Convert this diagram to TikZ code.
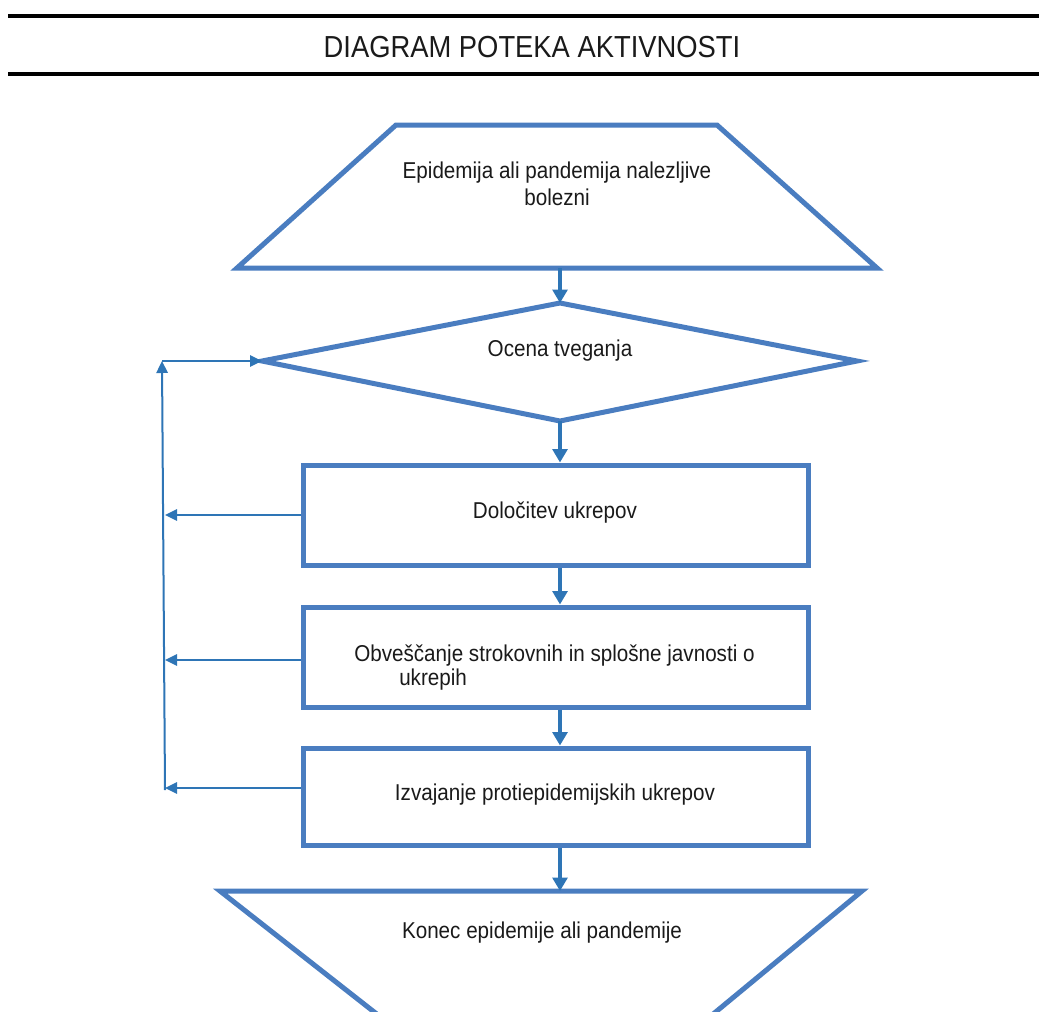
\documentclass[tikz,border=0pt]{standalone}
\usepackage{fontspec}
\setmainfont[FakeStretch=0.9]{Liberation Sans}
\usetikzlibrary{arrows.meta,calc}
\definecolor{shapeblue}{HTML}{4A7DC0}
\definecolor{linkblue}{HTML}{2E75B6}
\definecolor{txt}{HTML}{1A1A1A}
\tikzset{
  headrule/.style={draw=black, line width=3.6pt},
  shapeline/.style={draw=shapeblue, line width=3.75pt, line join=miter},
  boxnode/.style={shapeline, rectangle, minimum width=378.75pt, inner sep=0pt},
  flowarrow/.style={draw=linkblue, line width=2.8pt, -{Triangle[length=10pt,width=11pt]}},
  backarrow/.style={draw=linkblue, line width=1.5pt, -{Triangle[length=9pt,width=8.5pt]}},
  lbl/.style={font=\fontsize{17.2}{20}\selectfont, align=center, text=txt, inner sep=0pt},
  titlelbl/.style={font=\fontsize{22.8}{26}\selectfont, text=txt, inner sep=0pt}
}
\begin{document}
\begin{tikzpicture}[x=0.75pt,y=-0.75pt]
\useasboundingbox (0,0) rectangle (1039,1011);
% header
\draw[headrule] (8,16) -- (1039,16);
\draw[headrule] (8,74) -- (1039,74);
\node[titlelbl] (title) at (532,47) {DIAGRAM POTEKA AKTIVNOSTI};
% start trapezoid
\draw[shapeline] (396,125) -- (717,125) -- (877,268) -- (237,268) -- cycle;
\coordinate (startbot) at (560,268);
\node[lbl, font=\fontsize{17.2}{20.5}\selectfont] (start) at (557,184) {Epidemija ali pandemija nalezljive\\bolezni};
% diamond
\draw[shapeline] (560,303) coordinate (dtop) -- (857,361) coordinate (dright)
  -- (560,421) coordinate (dbot) -- (262,361) coordinate (dleft) -- cycle;
\node[lbl] (risk) at (560,351) {Ocena tveganja};
% boxes
\node[boxnode, minimum height=75pt] (box1) at (555.5,515) {};
\node[lbl] (t1) at (555,513) {Določitev ukrepov};
\node[boxnode, minimum height=75pt] (box2) at (555.5,657) {};
\node[lbl, align=left, anchor=north west, font=\fontsize{17.2}{18}\selectfont] (t2) at (354,645)
  {Obveščanje strokovnih in splošne javnosti o\\\hspace*{33.75pt}ukrepih};
\node[boxnode, minimum height=72.75pt] (box3) at (555.5,796.5) {};
\node[lbl] (t3) at (555,795) {Izvajanje protiepidemijskih ukrepov};
% end trapezoid (cut by page edge)
\draw[shapeline] (378,1015) -- (220,891) coordinate (eleft) -- (862,891) coordinate (eright) -- (712,1015);
\coordinate (endtop) at (560,891);
\node[lbl] (end) at (542,933) {Konec epidemije ali pandemije};
% main flow
\draw[flowarrow] (startbot) -- (dtop);
\draw[flowarrow] (dbot) -- (box1.north -| dbot);
\draw[flowarrow] (box1.south -| dbot) -- (box2.north -| dbot);
\draw[flowarrow] (box2.south -| dbot) -- (box3.north -| dbot);
\draw[flowarrow] (box3.south -| dbot) -- (endtop);
% feedback loop
\coordinate (bustop) at (162,361);
\coordinate (busbot) at (165,790);
\draw[backarrow] ([yshift=0pt]box1.west) -- (box1.west -| busbot);
\draw[backarrow] ([yshift=-2.25pt]box2.west) -- ([yshift=-2.25pt]box2.west -| busbot);
\draw[backarrow] ([yshift=6.4pt]box3.west) -- ([yshift=6.4pt]box3.west -| busbot);
\draw[backarrow] (busbot) -- (bustop);
\draw[backarrow] (bustop) -- (dleft);
\end{tikzpicture}
\end{document}
